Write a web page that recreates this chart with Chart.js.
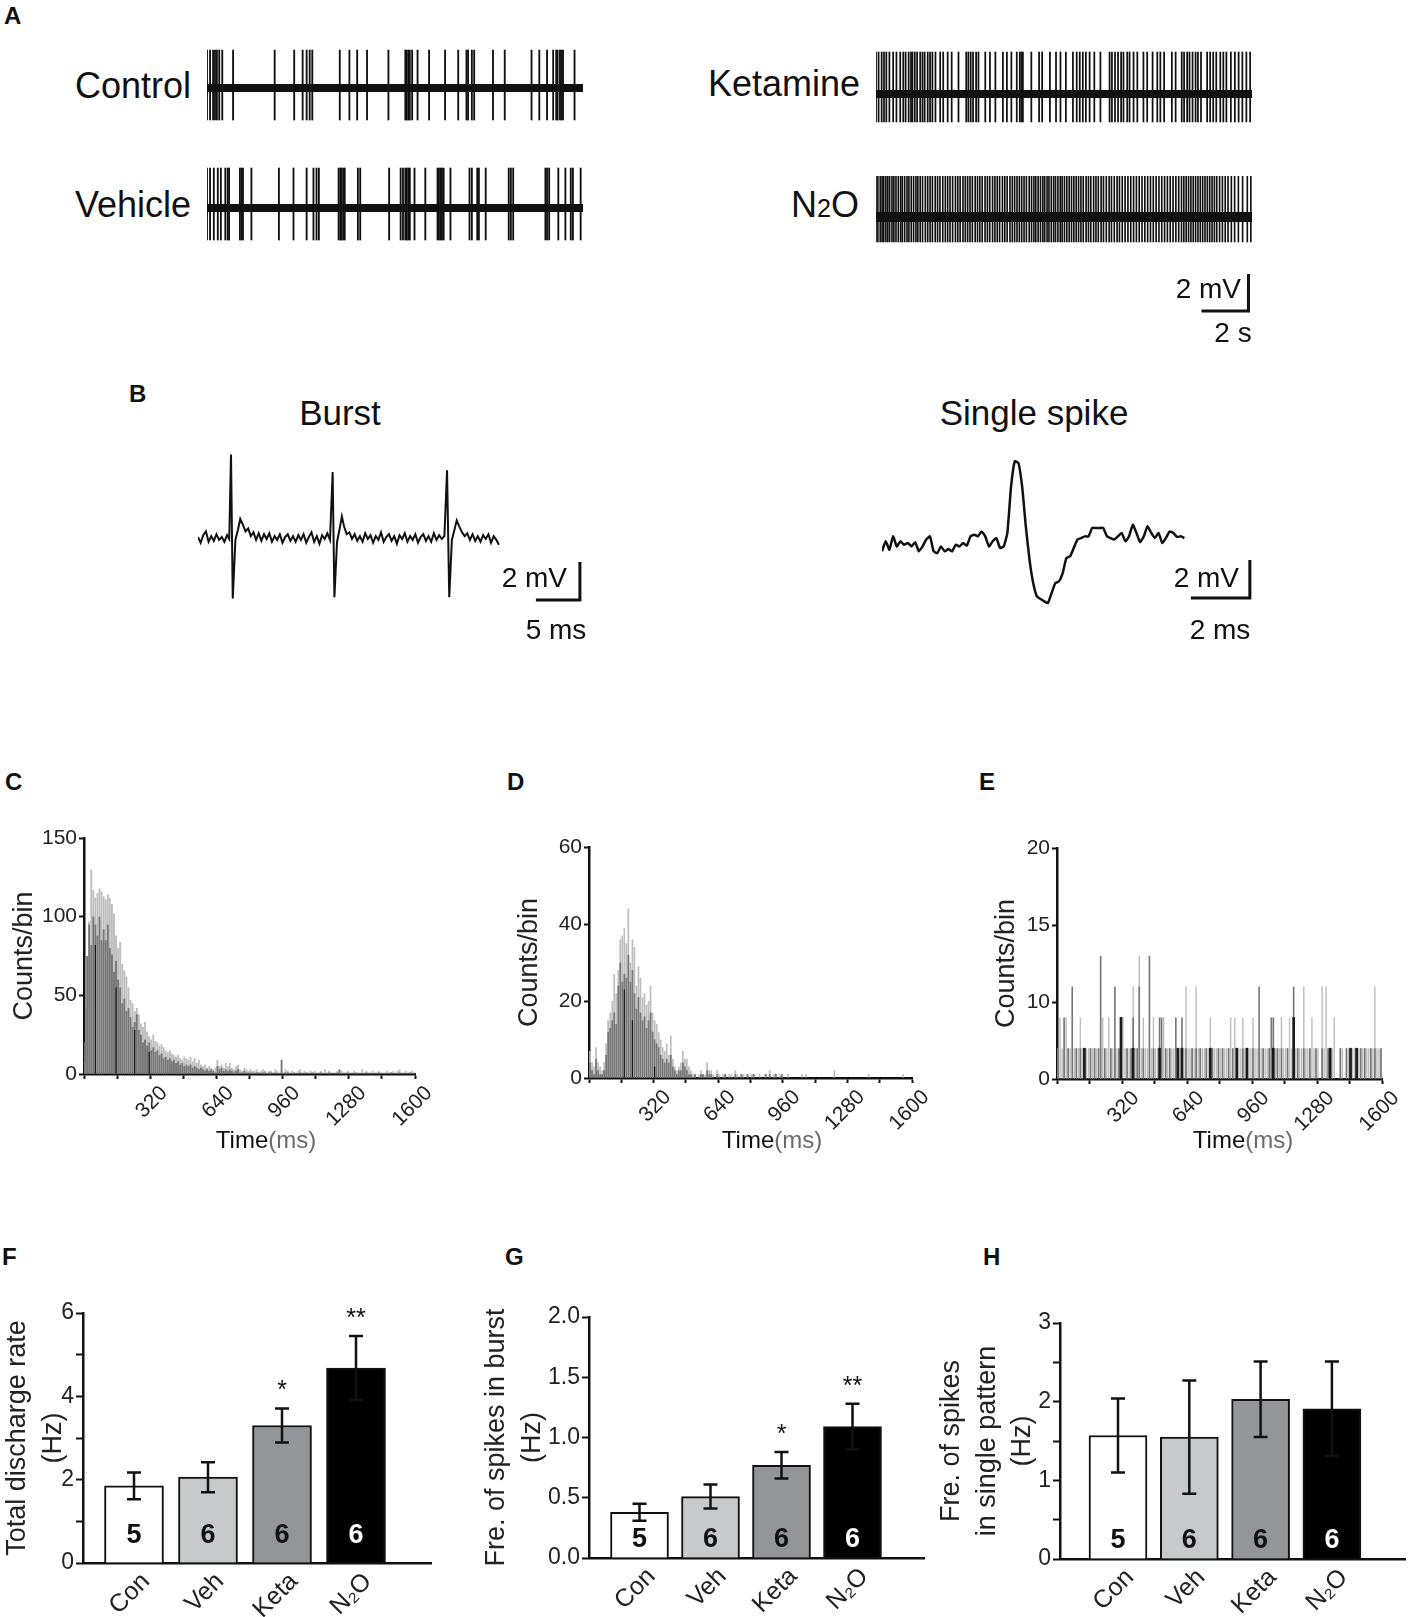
<!DOCTYPE html>
<html>
<head>
<meta charset="utf-8">
<script src="https://cdn.jsdelivr.net/npm/chart.js@4.4.1/dist/chart.umd.min.js"></script>
<style>
  html, body { margin: 0; padding: 0; background: #fff; }
  body { width: 1412px; height: 1617px; position: relative; overflow: hidden;
         font-family: "Liberation Sans", Arial, Helvetica, sans-serif; }
  canvas { position: absolute; }
  .txt { position: absolute; white-space: nowrap; line-height: 1; color: #111; }
</style>
</head>
<body>
<script>
// ---------- A: spike times (s) in each 16 s recording
const traceSeconds = 16;
const controlSpikes = [0.00, 0.13, 0.26, 0.34, 0.42, 0.52, 0.65, 1.11, 2.88, 3.71, 4.07, 4.24, 4.37, 4.48,
  5.65, 6.06, 6.39, 6.81, 7.72, 8.44, 8.50, 8.57, 8.63, 8.73, 8.96, 9.45, 10.13, 10.69, 11.04, 11.11,
  11.27, 11.37, 12.17, 12.67, 13.81, 14.14, 14.47, 14.73, 14.86, 14.92, 15.02, 15.08, 15.15, 15.64];
const vehicleSpikes = [0.00, 0.13, 0.29, 0.46, 0.59, 0.78, 0.88, 0.94, 1.40, 1.47, 1.53, 1.89, 3.06, 3.68,
  4.24, 4.53, 4.66, 4.76, 5.60, 5.67, 5.73, 5.80, 5.86, 6.42, 6.52, 7.75, 8.24, 8.34, 8.44, 8.50, 8.57,
  8.63, 8.83, 9.29, 9.81, 9.87, 9.94, 10.00, 10.07, 10.36, 11.17, 11.27, 11.50, 11.57, 11.86, 12.84,
  12.93, 13.03, 14.40, 14.47, 14.56, 14.95, 15.25, 15.48, 15.57, 15.90];
const ketamineSpikes = [0.00, 0.11, 0.24, 0.34, 0.44, 0.57, 0.73, 0.87, 1.03, 1.16, 1.26, 1.39, 1.49, 1.55,
  1.65, 1.75, 1.88, 1.98, 2.07, 2.20, 2.30, 2.40, 2.53, 2.73, 2.86, 3.05, 3.22, 3.51, 3.84, 3.93, 4.03,
  4.13, 4.26, 4.36, 4.65, 4.85, 5.08, 5.40, 5.57, 5.76, 5.99, 6.12, 6.19, 6.25, 6.61, 6.94, 7.07, 7.40,
  7.66, 7.85, 8.08, 8.38, 8.54, 8.67, 8.80, 8.93, 9.09, 9.29, 9.55, 9.94, 10.04, 10.17, 10.30, 10.43,
  10.53, 10.69, 10.79, 10.96, 11.12, 11.38, 11.54, 11.77, 11.97, 12.10, 12.26, 12.59, 12.75, 13.01,
  13.11, 13.24, 13.34, 13.47, 13.60, 13.70, 13.83, 14.09, 14.22, 14.35, 14.48, 14.65, 14.78, 14.91,
  15.10, 15.27, 15.43, 15.59, 15.76, 15.92];
const n2oSpikes = [0.00, 0.08, 0.18, 0.26, 0.33, 0.42, 0.50, 0.58, 0.68, 0.76, 0.85, 0.95, 1.05, 1.12,
  1.22, 1.32, 1.40, 1.50, 1.60, 1.70, 1.78, 1.88, 1.98, 2.10, 2.20, 2.30, 2.40, 2.52, 2.62, 2.72, 2.84,
  2.95, 3.05, 3.15, 3.26, 3.38, 3.48, 3.58, 3.70, 3.80, 3.90, 4.00, 4.10, 4.22, 4.32, 4.42, 4.52, 4.64,
  4.74, 4.84, 4.96, 5.06, 5.16, 5.26, 5.38, 5.48, 5.58, 5.70, 5.80, 5.90, 6.00, 6.10, 6.20, 6.30, 6.40,
  6.52, 6.62, 6.72, 6.80, 6.90, 7.00, 7.10, 7.18, 7.28, 7.36, 7.46, 7.56, 7.64, 7.74, 7.84, 7.92, 8.02,
  8.12, 8.22, 8.32, 8.42, 8.52, 8.62, 8.72, 8.82, 8.94, 9.04, 9.14, 9.26, 9.36, 9.46, 9.58, 9.68, 9.80,
  9.92, 10.02, 10.14, 10.26, 10.36, 10.48, 10.60, 10.72, 10.84, 10.96, 11.08, 11.20, 11.32, 11.44,
  11.56, 11.68, 11.80, 11.92, 12.04, 12.16, 12.28, 12.40, 12.52, 12.64, 12.76, 12.88, 13.00, 13.10,
  13.20, 13.30, 13.40, 13.50, 13.60, 13.70, 13.80, 13.90, 14.00, 14.10, 14.20, 14.30, 14.40, 14.50,
  14.62, 14.74, 14.86, 14.98, 15.12, 15.26, 15.42, 15.60, 15.80, 15.95];

// ---------- B: waveforms
const burstMs = [0.0, 0.3, 0.6, 0.9, 1.2, 1.5, 1.8, 2.1, 2.4, 2.7, 3.0, 3.3, 3.55, 3.75, 3.95, 4.25, 4.55,
  4.8, 5.1, 5.4, 5.7, 6.0, 6.3, 6.6, 6.9, 7.2, 7.5, 7.8, 8.1, 8.4, 8.7, 9.0, 9.3, 9.6, 9.9, 10.2, 10.5,
  10.8, 11.1, 11.4, 11.7, 12.0, 12.3, 12.6, 12.9, 13.2, 13.5, 13.8, 14.1, 14.4, 14.7, 15.0, 15.3, 15.5,
  15.8, 16.1, 16.35, 16.6, 16.9, 17.2, 17.5, 17.8, 18.1, 18.4, 18.7, 19.0, 19.3, 19.6, 19.9, 20.2, 20.5,
  20.8, 21.1, 21.4, 21.7, 22.0, 22.3, 22.6, 22.9, 23.2, 23.5, 23.8, 24.1, 24.4, 24.7, 25.0, 25.3, 25.6,
  25.9, 26.2, 26.5, 26.8, 27.1, 27.4, 27.7, 28.0, 28.3, 28.55, 28.85, 29.15, 29.4, 29.7, 30.0, 30.3,
  30.6, 30.9, 31.2, 31.5, 31.8, 32.1, 32.4, 32.7, 33.0, 33.3, 33.6, 33.9, 34.2];
const burstMv = [0.05, -0.25, 0.15, 0.35, -0.2, 0.1, -0.15, 0.2, -0.1, 0.05, -0.2, 0.15, -0.05, 4.39, -3.19,
  -0.1, 0.45, 1.0, 0.7, 0.35, 0.5, 0.1, 0.3, -0.1, 0.25, -0.15, 0.2, -0.05, 0.25, -0.2, 0.1, -0.1, 0.2,
  -0.25, 0.05, 0.2, -0.15, 0.1, -0.2, 0.15, -0.1, 0.2, -0.25, 0.05, 0.3, -0.2, 0.1, -0.3, 0.15, -0.05,
  0.25, -0.1, 3.47, -3.12, -0.2, 0.5, 1.14, 0.6, 0.2, 0.3, -0.05, 0.2, -0.15, 0.1, -0.2, 0.25, -0.05,
  0.15, -0.25, 0.1, -0.1, 0.3, -0.2, 0.05, 0.2, -0.15, 0.1, -0.3, 0.15, -0.05, 0.25, -0.2, 0.1, -0.1,
  0.2, -0.25, 0.05, 0.2, -0.15, 0.1, -0.2, 0.25, -0.1, 0.15, -0.05, 0.1, 3.56, -3.12, -0.1, 0.45, 0.93,
  0.6, 0.3, 0.1, 0.25, -0.1, 0.2, -0.15, 0.1, -0.2, 0.15, -0.05, 0.2, -0.25, 0.1, -0.1, -0.35];
const singleStepMs = 0.125;
const singleSpikeMv = [-0.44, 0.09, -0.35, 0.35, -0.18, 0.09, -0.09, 0, -0.18, 0.04,
  -0.44, -0.18, 0.18, 0.35, -0.44, -0.53, -0.18, -0.44, -0.32, -0.44,
  -0.09, -0.18, 0, -0.14, 0.35, 0.44, 0.35, 0.61, 0.35, -0.18,
  0.09, 0.26, -0.26, -0.18, 0.53, 2.98, 4.30, 4.21, 2.98, 0.88,
  -0.88, -2.11, -2.81, -2.95, -3.07, -3.16, -2.63, -2.11, -2.02, -1.58,
  -0.79, -0.70, -0.26, 0.18, 0.26, 0.35, 0.35, 0.79, 0.79, 0.79,
  0.79, 0.35, 0.26, 0.18, 0.35, 0.53, 0.09, 0.35, 0.96, 0.53,
  0.04, 0.35, 0.88, 0.53, 0.26, 0.53, 0, 0.26, 0.61, 0.53,
  0.32, 0.35, 0.26];

// ---------- C-E: interspike histograms, 10 ms bins starting at 0 ms
const binMs = 10;
const cLight = [8, 42, 97, 130, 117, 112, 115, 118, 116, 113,
  111, 114, 112, 108, 102, 88, 80, 84, 70, 66,
  62, 55, 47, 45, 40, 42, 38, 32, 30, 33,
  27, 24, 22, 25, 21, 20, 18, 19, 17, 15,
  14, 15, 13, 12, 11, 12, 10, 9, 11, 10,
  9, 11, 8, 10, 7, 9, 6, 5, 6, 4,
  5, 4, 3, 4, 9, 5, 6, 4, 7, 5,
  7, 4, 3, 5, 6, 3, 2, 4, 3, 2,
  3, 2, 2, 3, 1, 2, 3, 2, 1, 2,
  2, 1, 3, 2, 1, 2, 1, 3, 2, 1,
  2, 1, 1, 2, 3, 1, 2, 1, 1, 2,
  1, 2, 1, 1, 2, 1, 3, 1, 2, 1,
  1, 1, 2, 1, 2, 1, 1, 2, 1, 1,
  2, 1, 1, 1, 3, 1, 2, 1, 1, 2,
  1, 1, 2, 1, 1, 1, 2, 1, 1, 2,
  1, 2, 3, 1, 1, 2, 1, 1, 2, 1];
const cMid = [20, 75, 95, 82, 100, 95, 88, 100, 85, 92,
  85, 95, 80, 76, 65, 72, 60, 55, 45, 48,
  40, 42, 36, 30, 33, 38, 28, 25, 20, 22,
  18, 20, 15, 17, 14, 15, 12, 13, 10, 11,
  9, 10, 8, 9, 7, 8, 6, 7, 5, 6,
  5, 6, 4, 5, 4, 3, 4, 3, 2, 3,
  2, 3, 2, 1, 5, 3, 4, 2, 3, 2,
  3, 2, 1, 2, 3, 1, 1, 2, 1, 1,
  1, 1, 0, 1, 1, 0, 1, 1, 0, 1,
  1, 0, 1, 0, 0, 9, 0, 1, 1, 0,
  0, 1, 0, 0, 1, 0, 0, 1, 0, 0,
  1, 0, 0, 0, 1, 0, 0, 0, 1, 0,
  0, 0, 1, 3, 0, 0, 0, 1, 0, 0,
  0, 1, 0, 0, 0, 0, 1, 0, 0, 0,
  0, 0, 1, 0, 0, 0, 0, 0, 1, 0,
  0, 0, 1, 0, 0, 0, 0, 1, 0, 0];
const cBlackBins = [5, 15, 24, 31];
const cBlackCounts = [82, 55, 28, 14];

const dLight = [7, 4, 3, 8, 4, 3, 2, 4, 9, 15,
  17, 20, 27, 22, 28, 36, 37, 39, 35, 44,
  30, 36, 34, 24, 29, 26, 21, 22, 19, 20,
  24, 17, 15, 14, 12, 10, 8, 7, 9, 6,
  11, 5, 3, 2, 3, 4, 7, 5, 5, 3,
  2, 1, 1, 0, 1, 2, 1, 1, 4, 2,
  2, 1, 0, 2, 1, 0, 1, 1, 0, 1,
  1, 0, 2, 1, 0, 1, 1, 0, 1, 0,
  1, 1, 0, 0, 1, 0, 0, 1, 0, 2,
  0, 1, 1, 0, 1, 1, 0, 0, 1, 0,
  0, 0, 0, 0, 0, 1, 0, 1, 0, 0,
  0, 0, 0, 0, 0, 0, 0, 0, 0, 0,
  0, 2, 0, 0, 0, 0, 0, 0, 0, 0,
  0, 0, 0, 0, 0, 0, 0, 0, 1, 0,
  0, 0, 0, 0, 0, 0, 0, 0, 0, 0,
  0, 0, 0, 0, 0, 1, 0, 0, 0, 0];
const dMid = [4, 2, 1, 5, 2, 1, 1, 2, 6, 12,
  13, 15, 17, 14, 24, 30, 25, 27, 26, 32,
  25, 28, 22, 18, 21, 17, 15, 16, 13, 15,
  17, 12, 10, 9, 8, 6, 5, 4, 5, 4,
  6, 3, 2, 1, 2, 2, 4, 3, 2, 1,
  1, 0, 1, 0, 0, 1, 1, 0, 2, 1,
  1, 0, 0, 1, 0, 0, 0, 1, 0, 0,
  0, 0, 1, 0, 0, 1, 0, 0, 1, 0,
  0, 1, 0, 0, 0, 0, 0, 1, 0, 1,
  0, 0, 1, 0, 0, 1, 0, 0, 0, 0];
const dBlackBins = [17, 21, 32];
const dBlackCounts = [23, 15, 3];

const eLight = [2, 4, 2, 2, 4, 2, 2, 0, 2, 2,
  2, 4, 2, 2, 2, 2, 2, 2, 2, 2,
  0, 2, 4, 2, 2, 4, 2, 2, 2, 2,
  2, 2, 4, 2, 2, 2, 2, 6, 2, 2,
  8, 2, 4, 2, 2, 2, 2, 4, 2, 2,
  2, 2, 4, 2, 2, 2, 2, 2, 2, 2,
  2, 2, 2, 6, 2, 2, 2, 2, 6, 2,
  2, 2, 2, 2, 2, 4, 2, 2, 2, 2,
  2, 2, 2, 2, 2, 4, 2, 4, 2, 2,
  2, 4, 2, 2, 2, 2, 4, 2, 2, 2,
  2, 2, 2, 2, 2, 2, 2, 2, 2, 2,
  4, 2, 2, 2, 4, 2, 2, 2, 2, 2,
  2, 6, 2, 2, 2, 4, 2, 2, 2, 0,
  6, 2, 6, 2, 2, 2, 4, 0, 0, 2,
  2, 0, 2, 2, 2, 2, 2, 2, 2, 2,
  2, 2, 2, 2, 2, 2, 6, 2, 2, 2];
const eMid = [2, 0, 0, 4, 0, 2, 0, 6, 0, 2,
  0, 2, 0, 2, 0, 0, 2, 0, 2, 0,
  2, 8, 0, 2, 0, 0, 2, 0, 6, 0,
  2, 4, 0, 0, 2, 0, 2, 4, 0, 2,
  6, 0, 2, 0, 0, 8, 0, 2, 0, 0,
  4, 4, 0, 2, 0, 2, 0, 0, 4, 2,
  0, 4, 0, 2, 0, 0, 2, 0, 2, 0,
  2, 0, 0, 2, 0, 0, 2, 0, 0, 2,
  0, 2, 0, 0, 2, 0, 2, 0, 2, 0,
  0, 2, 0, 2, 0, 0, 2, 0, 0, 6,
  0, 2, 0, 0, 2, 4, 4, 0, 2, 0,
  2, 0, 0, 2, 0, 0, 6, 0, 2, 0,
  0, 2, 0, 0, 2, 0, 0, 2, 0, 0,
  2, 0, 0, 2, 0, 0, 0, 0, 0, 2,
  0, 0, 2, 0, 2, 0, 0, 2, 0, 2,
  0, 2, 0, 0, 2, 0, 2, 0, 0, 2];
const eBlackBins = [13, 31, 37, 50, 59, 61, 75, 88, 93, 106, 116, 134, 144, 147];
const eBlackCounts = [2, 4, 2, 2, 2, 2, 2, 2, 2, 2, 4, 2, 2, 2];
const eTickText = ['0', '10', '15', '20'];   // printed labels of the four E ticks

// ---------- F-H: group means, SEM, n
const groups = ['Con', 'Veh', 'Keta', 'N\u2082O'];
const groupN = [5, 6, 6, 6];
const totalRate = [1.85, 2.06, 3.30, 4.68];
const totalRateSem = [0.32, 0.36, 0.41, 0.77];
const totalRateStars = ['', '', '*', '**'];
const burstRate = [0.38, 0.51, 0.77, 1.09];
const burstRateSem = [0.07, 0.10, 0.11, 0.19];
const burstRateStars = ['', '', '*', '**'];
const singleRate = [1.57, 1.55, 2.03, 1.91];
const singleRateSem = [0.47, 0.72, 0.48, 0.60];
const singleRateStars = ['', '', '', ''];

// ---------- styles
const INK = '#111';
const groupColors = ['#ffffff', '#c8c9cb', '#939598', '#000000'];
const FONT = '"Liberation Sans", Arial, Helvetica, sans-serif';

Chart.defaults.font.family = FONT;
Chart.defaults.color = '#222';
Chart.defaults.animation = false;
Chart.defaults.responsive = false;
Chart.defaults.plugins.legend.display = false;
Chart.defaults.plugins.tooltip.enabled = false;

function addCanvas(box) {
  const c = document.createElement('canvas');
  c.width = box.w; c.height = box.h;
  c.style.left = box.x + 'px'; c.style.top = box.y + 'px';
  c.style.width = box.w + 'px'; c.style.height = box.h + 'px';
  document.body.appendChild(c);
  return c;
}

// y is the middle of the capitals
function addText(html, x, y, size, align, bold) {
  const d = document.createElement('div');
  d.className = 'txt';
  d.innerHTML = html;
  d.style.fontSize = size + 'px';
  if (bold) d.style.fontWeight = 'bold';
  d.style.left = x + 'px';
  d.style.top = (y - 0.4885 * size) + 'px';
  const shift = { left: '0', center: '-50%', right: '-100%' }[align || 'left'];
  d.style.transform = 'translateX(' + shift + ')';
  document.body.appendChild(d);
}

// chart without axes: box.base = pixel row of 0
function bareChart(box, pxPerX, pxPerY, datasets) {
  return new Chart(addCanvas(box), {
    type: 'bar',
    data: { datasets },
    options: {
      devicePixelRatio: 1,
      layout: { padding: 0 },
      scales: {
        x: { type: 'linear', display: false, offset: false, min: 0, max: box.w / pxPerX },
        y: { type: 'linear', display: false, min: -(box.h - box.base) / pxPerY, max: box.base / pxPerY }
      }
    }
  });
}

function lineSet(points, width) {
  return { type: 'line', data: points, borderColor: INK, borderWidth: width, pointRadius: 0,
           tension: 0, clip: false, borderJoinStyle: 'miter' };
}
function spikeSet(times, up, down, thick) {
  return { type: 'bar', data: times.map(t => ({ x: t, y: [down, up] })), backgroundColor: INK,
           barThickness: thick, grouped: false, clip: false };
}
function scaleBarSet(bar) {
  return lineSet([{ x: bar.endX - bar.lenX, y: bar.y0 }, { x: bar.endX, y: bar.y0 },
                  { x: bar.endX, y: bar.y0 + bar.lenY }], 3);
}
function baseline(band) {
  return lineSet([{ x: 0, y: 0 }, { x: traceSeconds, y: 0 }], band);
}

// ================= panel A
const A_PX_PER_S = 23.5, A_PX_PER_MV = 18.5;
bareChart({ x: 207, y: 40, w: 376, h: 90, base: 48 }, A_PX_PER_S, A_PX_PER_MV,
  [spikeSet(controlSpikes, 2.05, -1.73, 1.2), baseline(8)]);
bareChart({ x: 207, y: 160, w: 376, h: 90, base: 48 }, A_PX_PER_S, A_PX_PER_MV,
  [spikeSet(vehicleSpikes, 2.16, -1.73, 1.2), baseline(8)]);
bareChart({ x: 876, y: 46, w: 376, h: 90, base: 48 }, A_PX_PER_S, A_PX_PER_MV,
  [spikeSet(ketamineSpikes, 2.27, -1.51, 1.1), baseline(8)]);
bareChart({ x: 876, y: 169, w: 384, h: 151, base: 48 }, A_PX_PER_S, A_PX_PER_MV,
  [spikeSet(n2oSpikes, 2.2, -1.35, 1.0), baseline(10),
   scaleBarSet({ lenX: 2, lenY: 2, endX: 15.85, y0: -5.08 })]);

addText('A', 4, 16, 24, 'left', true);
addText('Control', 191, 86, 36, 'right');
addText('Vehicle', 191, 205, 36, 'right');
addText('Ketamine', 860, 84, 36, 'right');
addText('N<span style="font-size:0.7em">2</span>O', 859, 205, 36, 'right');
addText('2 mV', 1241, 289, 28, 'right');
addText('2 s', 1233, 333, 28, 'center');

// ================= panel B
bareChart({ x: 198, y: 440, w: 392, h: 172, base: 98 }, 8.8, 19,
  [lineSet(burstMs.map((t, i) => ({ x: t, y: burstMv[i] })), 2),
   scaleBarSet({ lenX: 5, lenY: 2, endX: 43.4, y0: -3.26 })]);
bareChart({ x: 882, y: 440, w: 376, h: 172, base: 103 }, 29.5, 19,
  [Object.assign(lineSet(singleSpikeMv.map((v, i) => ({ x: i * singleStepMs, y: v })), 2.5), { tension: 0.15 }),
   scaleBarSet({ lenX: 2, lenY: 2, endX: 12.47, y0: -2.89 })]);

addText('B', 129, 394, 24, 'left', true);
addText('Burst', 340, 412, 35, 'center');
addText('Single spike', 1034, 412, 35, 'center');
addText('2 mV', 567, 578, 28, 'right');
addText('5 ms', 556, 630, 28, 'center');
addText('2 mV', 1239, 578, 28, 'right');
addText('2 ms', 1220, 630, 28, 'center');

// ================= axis helpers
function axisFit(L, titleLineHeight) {
  const padLeft = L.titleX - L.canvas.x - titleLineHeight / 2;
  return {
    padding: { left: padLeft, top: L.area.t - L.canvas.y, right: L.canvas.x + L.canvas.w - L.area.r, bottom: 0 },
    yWidth: L.area.l - L.canvas.x - padLeft,
    xHeight: L.canvas.y + L.canvas.h - L.area.b
  };
}
const axisBorder = { display: true, color: INK, width: 2.5 };

function histogram(L, yMax, yStep, yTickText, layers) {
  const fit = axisFit(L, 27 * 1.2);
  new Chart(addCanvas(L.canvas), {
    type: 'bar',
    data: {
      datasets: layers.map(layer => ({
        data: layer.counts.map((c, i) => ({ x: (layer.bins ? layer.bins[i] : i) * binMs + binMs / 2, y: c })),
        backgroundColor: layer.color, order: layer.order,
        barPercentage: layer.width, categoryPercentage: 1, grouped: false
      }))
    },
    options: {
      devicePixelRatio: 1,
      layout: { padding: fit.padding },
      scales: {
        x: {
          type: 'linear', min: 0, max: 1600, offset: false,
          ticks: { stepSize: 160, autoSkip: false, maxRotation: 45, minRotation: 45, padding: 2, labelOffset: 14,
                   font: { size: 21 }, callback: v => (v > 0 && v % 320 === 0) ? String(v) : '' },
          grid: { display: true, drawOnChartArea: false, offset: false, tickLength: 5, color: INK, tickWidth: 2 },
          border: axisBorder,
          afterFit: s => { s.height = fit.xHeight; }
        },
        y: {
          min: 0, max: yMax,
          ticks: { stepSize: yStep, padding: 2, font: { size: 21 }, callback: yTickText },
          grid: { display: true, drawOnChartArea: false, tickLength: 5, color: INK, tickWidth: 2 },
          border: axisBorder,
          title: { display: true, text: 'Counts/bin', font: { size: 27 }, padding: 0, color: '#222' },
          afterFit: s => { s.width = fit.yWidth; }
        }
      }
    }
  });
}

const LIGHT = '#bdbdbd', MID = '#767676', DARK = '#1a1a1a';

// ================= panel C
histogram({ canvas: { x: 0, y: 815, w: 440, h: 325 }, area: { l: 84, t: 838, r: 415, b: 1074 }, titleX: 25 },
  150, 50, v => String(v), [
    { counts: cBlackCounts, bins: cBlackBins, color: DARK, order: 0, width: 0.6 },
    { counts: cMid, color: MID, order: 1, width: 0.9 },
    { counts: cLight, color: LIGHT, order: 2, width: 0.9 }
  ]);
// ================= panel D
histogram({ canvas: { x: 500, y: 824, w: 437, h: 321 }, area: { l: 589, t: 847, r: 912, b: 1078 }, titleX: 530 },
  60, 20, v => String(v), [
    { counts: dBlackCounts, bins: dBlackBins, color: DARK, order: 0, width: 0.6 },
    { counts: dMid, color: MID, order: 1, width: 0.85 },
    { counts: dLight, color: LIGHT, order: 2, width: 0.85 }
  ]);
// ================= panel E
histogram({ canvas: { x: 975, y: 825, w: 437, h: 320 }, area: { l: 1057, t: 848, r: 1382, b: 1079 }, titleX: 1007 },
  15, 5, v => eTickText[Math.round(v / 5)], [
    { counts: eBlackCounts, bins: eBlackBins, color: DARK, order: 0, width: 1 },
    { counts: eMid, color: MID, order: 1, width: 0.8 },
    { counts: eLight, color: LIGHT, order: 2, width: 0.7 }
  ]);

addText('C', 5, 782, 24, 'left', true);
addText('D', 507, 782, 24, 'left', true);
addText('E', 979, 782, 24, 'left', true);
const timeTitle = 'Time<span style="color:#6a6a6a">(ms)</span>';
addText(timeTitle, 266, 1140, 24, 'center');
addText(timeTitle, 772, 1140, 24, 'center');
addText(timeTitle, 1243, 1140, 24, 'center');

// ================= F-H: bars with SEM, n and significance
const barExtras = {
  id: 'barExtras',
  afterDatasetsDraw(chart, args, o) {
    const { ctx } = chart;
    const y = chart.scales.y;
    ctx.save();
    chart.getDatasetMeta(0).data.forEach((bar, i) => {
      const top = y.getPixelForValue(o.means[i] + o.sems[i]);
      const bottom = y.getPixelForValue(o.means[i] - o.sems[i]);
      ctx.strokeStyle = INK;
      ctx.lineWidth = 2.5;
      ctx.beginPath();
      ctx.moveTo(bar.x, top); ctx.lineTo(bar.x, bottom);
      ctx.moveTo(bar.x - 7, top); ctx.lineTo(bar.x + 7, top);
      ctx.moveTo(bar.x - 7, bottom); ctx.lineTo(bar.x + 7, bottom);
      ctx.stroke();
      ctx.textAlign = 'center';
      ctx.textBaseline = 'alphabetic';
      ctx.font = 'bold 27px ' + FONT;
      ctx.fillStyle = o.nColors[i];
      ctx.fillText(String(o.n[i]), bar.x, y.getPixelForValue(0) - o.nLift);
      if (o.stars[i]) {
        ctx.font = '25px ' + FONT;
        ctx.fillStyle = INK;
        ctx.fillText(o.stars[i], bar.x, top - 10);
      }
    });
    ctx.restore();
  }
};

function groupChart(L, title, yMax, yStep, labelStep, decimals, means, sems, stars) {
  const fit = axisFit(L, 27 * 1.3);
  const xMin = (L.area.l - L.firstCenter) / L.pitch;
  const xMax = (L.area.r - L.firstCenter) / L.pitch;
  const isMajor = v => Math.abs(v / labelStep - Math.round(v / labelStep)) < 1e-6;
  new Chart(addCanvas(L.canvas), {
    type: 'bar',
    data: {
      datasets: [{
        data: means.map((m, i) => ({ x: i, y: m })),
        backgroundColor: groupColors, borderColor: INK, borderWidth: 2,
        barThickness: L.barW, grouped: false
      }]
    },
    options: {
      devicePixelRatio: 1,
      layout: { padding: fit.padding },
      plugins: { barExtras: { means, sems, stars, n: groupN, nLift: L.nLift,
                              nColors: ['#111', '#111', '#111', '#fff'] } },
      scales: {
        x: {
          type: 'linear', min: xMin, max: xMax, offset: false,
          afterBuildTicks: s => { s.ticks = groups.map((g, i) => ({ value: i })); },
          ticks: { autoSkip: false, maxRotation: 45, minRotation: 45, padding: 4, labelOffset: 12,
                   font: { size: 25 }, callback: (v, i) => groups[i] },
          grid: { display: false, drawTicks: false, offset: false },
          border: axisBorder,
          afterFit: s => { s.height = fit.xHeight; }
        },
        y: {
          min: 0, max: yMax,
          ticks: { stepSize: yStep, padding: 2, font: { size: 23 },
                   callback: v => isMajor(v) ? v.toFixed(decimals) : '' },
          grid: { display: true, drawOnChartArea: false, tickLength: 7, color: INK, tickWidth: 2 },
          border: axisBorder,
          title: { display: true, text: title, font: { size: 27, lineHeight: 1.3 }, padding: 0, color: '#222' },
          afterFit: s => { s.width = fit.yWidth; }
        }
      }
    },
    plugins: [barExtras]
  });
}

groupChart({ canvas: { x: 0, y: 1290, w: 455, h: 327 }, area: { l: 83, t: 1313, r: 431, b: 1563 }, titleX: 18,
             firstCenter: 134, pitch: 74, barW: 59, nLift: 20 },
  ['Total discharge rate', '(Hz)'], 6, 1, 2, 0, totalRate, totalRateSem, totalRateStars);
groupChart({ canvas: { x: 470, y: 1294, w: 475, h: 323 }, area: { l: 589, t: 1317, r: 924, b: 1558 }, titleX: 497,
             firstCenter: 639.5, pitch: 71, barW: 58, nLift: 11 },
  ['Fre. of spikes in burst', '(Hz)'], 2, 0.25, 0.5, 1, burstRate, burstRateSem, burstRateStars);
groupChart({ canvas: { x: 930, y: 1300, w: 510, h: 317 }, area: { l: 1060, t: 1323, r: 1405, b: 1559 }, titleX: 952,
             firstCenter: 1118, pitch: 71.3, barW: 58, nLift: 11 },
  ['Fre. of spikes', 'in single pattern', '(Hz)'], 3, 0.5, 1, 0, singleRate, singleRateSem, singleRateStars);

addText('F', 2, 1257, 24, 'left', true);
addText('G', 505, 1257, 24, 'left', true);
addText('H', 983, 1257, 24, 'left', true);
</script>
</body>
</html>
